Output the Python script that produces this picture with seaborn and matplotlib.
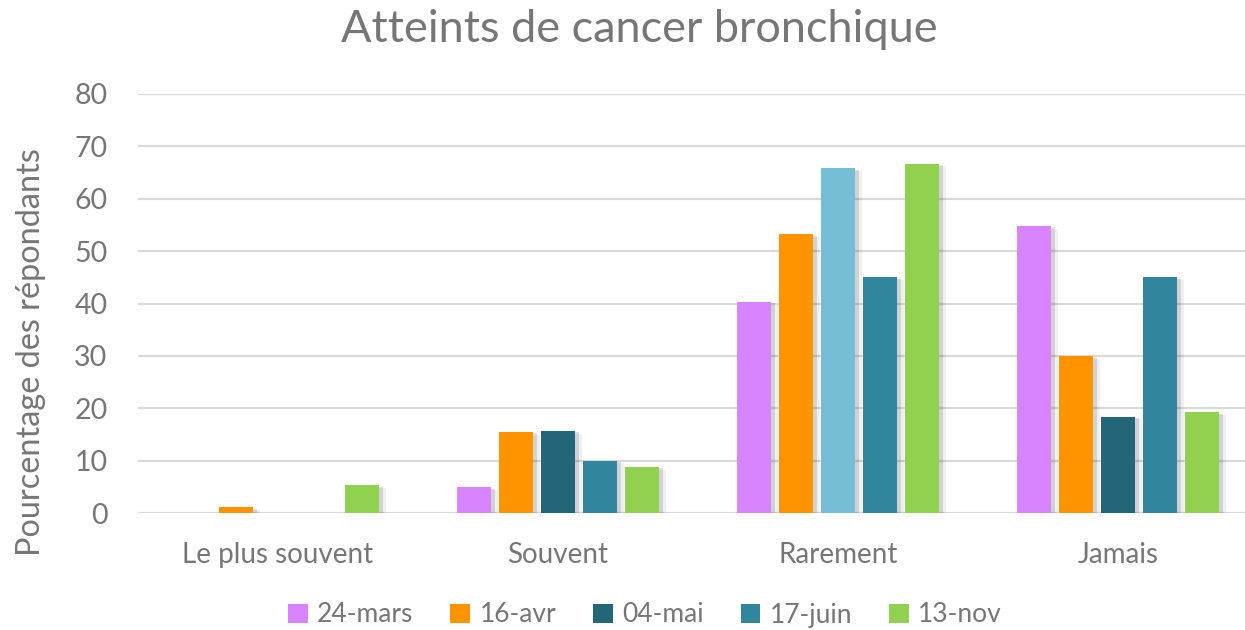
import matplotlib
matplotlib.use("Agg")
import matplotlib.pyplot as plt
import matplotlib.patheffects as pe
from matplotlib.patches import Patch
import seaborn as sns
import pandas as pd

categories = ["Le plus souvent", "Souvent", "Rarement", "Jamais"]
series = ["24-mars", "16-avr", "04-mai", "17-juin", "13-nov"]
v_24mars = [0.0, 4.9, 40.3, 54.8]
v_16avr = [1.1, 15.5, 53.2, 29.9]
v_04mai = [0.0, 15.7, 65.8, 18.4]
v_17juin = [0.0, 10.0, 45.0, 45.0]
v_13nov = [5.3, 8.8, 66.7, 19.2]
yticks = [0, 10, 20, 30, 40, 50, 60, 70, 80]

colors = ["#D883FF", "#FF9300", "#236677", "#31859C", "#92D050"]
special_color = "#75BDD4"  # 04-mai bar in "Rarement"

rows = []
for s, vals in zip(series, [v_24mars, v_16avr, v_04mai, v_17juin, v_13nov]):
    for c, v in zip(categories, vals):
        rows.append({"cat": c, "serie": s, "val": v})
df = pd.DataFrame(rows)

sns.set_theme(style="white")
plt.rcParams["font.family"] = ["Lato", "DejaVu Sans"]
txt = "#767676"

fig = plt.figure(figsize=(12.45, 6.3), dpi=100)
ax = fig.add_axes([138 / 1245, 1 - 513 / 630, 1120 / 1245, (513 - 94) / 630])

sns.barplot(data=df, x="cat", y="val", hue="serie", order=categories,
            hue_order=series, palette=colors, width=0.75, gap=0.18,
            saturation=1, linewidth=0, ax=ax, legend=False, zorder=3)

# recolor 04-mai / Rarement bar
cont = ax.containers[2]
cont.patches[2].set_facecolor(special_color)

for p in ax.patches:
    if p.get_height() > 0:
        p.set_path_effects([
            pe.SimplePatchShadow(offset=(5, -2), shadow_rgbFace="black", alpha=0.06),
            pe.SimplePatchShadow(offset=(3, -1), shadow_rgbFace="black", alpha=0.12),
            pe.Normal()])

ax.set_ylim(0, 80)
ax.set_xlim(-0.5, 3.5)
ax.set_yticks(yticks)
ax.set_yticklabels([str(t) for t in yticks], fontsize=20.5, color=txt)
ax.tick_params(axis="x", labelsize=20, colors=txt, length=0, pad=21)
ax.tick_params(axis="y", length=0, pad=22)
ax.grid(axis="y", color="#D9D9D9", linewidth=1.6, zorder=0)
ax.set_axisbelow(True)
for sp in ax.spines.values():
    sp.set_visible(False)
ax.set_xlabel("")
ax.set_ylabel("Pourcentage des répondants", fontsize=23.3, color=txt)
ax.yaxis.set_label_coords((31 - 138) / 1120, 0.385)
ax.yaxis.label.set_va("center")

fig.text(639 / 1245, 1 - 30 / 630, "Atteints de cancer bronchique", ha="center",
         va="center", fontsize=32.5, color=txt)

handles = [Patch(facecolor=c, edgecolor="none") for c in colors]
fig.legend(handles, series, loc="center", bbox_to_anchor=(645 / 1245, 1 - 615 / 630),
           ncol=5, frameon=False, fontsize=19, labelcolor=txt, handlelength=0.75,
           handleheight=0.75, handletextpad=0.35, columnspacing=1.4)

fig.savefig("out.png", dpi=100)
